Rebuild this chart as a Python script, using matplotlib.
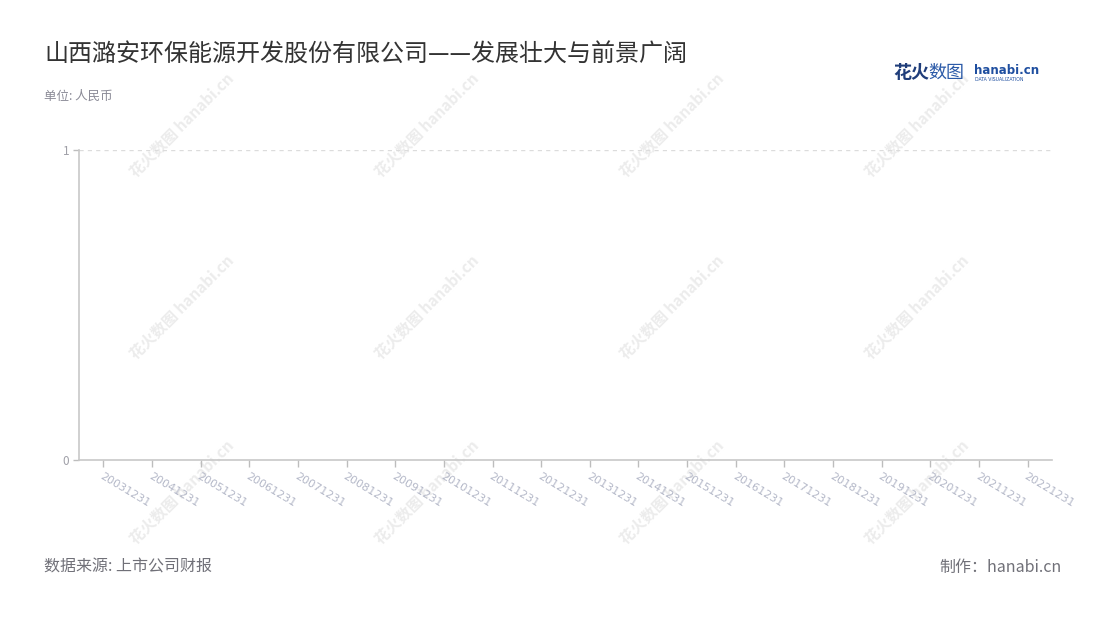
import matplotlib
matplotlib.use("Agg")
import matplotlib.pyplot as plt

plt.rcParams['font.family'] = ['Noto Sans CJK SC', 'DejaVu Sans']

categories = ["20031231", "20041231", "20051231", "20061231", "20071231",
              "20081231", "20091231", "20101231", "20111231", "20121231",
              "20131231", "20141231", "20151231", "20161231", "20171231",
              "20181231", "20191231", "20201231", "20211231", "20221231"]
y_ticks = [0, 1]
y_tick_labels = ["0", "1"]

title = "山西潞安环保能源开发股份有限公司——发展壮大与前景广阔"
unit_text = "单位: 人民币"
source_text = "数据来源: 上市公司财报"
maker_text = "制作：hanabi.cn"

W, H = 1100, 620
fig = plt.figure(figsize=(W / 100, H / 100), dpi=100)
fig.patch.set_facecolor("white")

# watermarks (behind everything)
wm_cols = [182, 427, 672, 917]
wm_rows = [125, 307, 492]
for cx in wm_cols:
    for cy in wm_rows:
        fig.text(cx / W, 1 - cy / H, "花火数图 hanabi.cn", rotation=45,
                 ha="center", va="center", fontsize=11, fontweight="bold",
                 color="#ececec", zorder=-1, rotation_mode="anchor")

ax = fig.add_axes([79 / W, 1 - 460 / H, (1052 - 79) / W, (460 - 150) / H])
ax.set_facecolor("none")
n = len(categories)
ax.set_xlim(-0.5, n - 0.5)
ax.set_ylim(0, 1)

ax.set_xticks(range(n))
ax.set_xticklabels(categories, rotation=-31, ha="left", va="top",
                   rotation_mode="anchor", color="#b4b8c8", fontsize=8,
                   family=["DejaVu Sans"])
ax.tick_params(axis="x", length=5, color="#bdbdbd", width=1, pad=3)
ax.set_yticks(y_ticks)
ax.set_yticklabels(y_tick_labels, color="#a0a0a8", fontsize=8.5)
ax.tick_params(axis="y", length=4, color="#bdbdbd", width=1, pad=3)

for s in ["top", "right"]:
    ax.spines[s].set_visible(False)
for s in ["left", "bottom"]:
    ax.spines[s].set_color("#c8c8c8")
    ax.spines[s].set_linewidth(1.2)

ax.axhline(1, color="#dcdcdc", lw=1, ls=(0, (3, 3)), zorder=0)

# title & texts
fig.text(44 / W, 1 - 55 / H, title, fontsize=17.3, color="#333333",
         ha="left", va="center")
fig.text(44 / W, 1 - 96 / H, unit_text, fontsize=9, color="#8a8a96",
         ha="left", va="center")
fig.text(44 / W, 1 - 567 / H, source_text, fontsize=11.5, color="#707078",
         ha="left", va="center")
fig.text(1062 / W, 1 - 567 / H, maker_text, fontsize=11.5, color="#707078",
         ha="right", va="center")

# logo
fig.text(893 / W, 1 - 73 / H, "花火", fontsize=13, fontweight="bold",
         color="#1f3d7a", ha="left", va="center")
fig.text(928 / W, 1 - 73 / H, "数图", fontsize=13, color="#2b5aa8",
         ha="left", va="center")
fig.text(974 / W, 1 - 70 / H, "hanabi.cn", fontsize=8.5, fontweight="bold",
         color="#1f4fa0", ha="left", va="center", family=["DejaVu Sans"])
fig.text(975 / W, 1 - 79.5 / H, "DATA VISUALIZATION", fontsize=3.3,
         color="#1f4fa0", ha="left", va="center", family=["DejaVu Sans"])

fig.savefig("out.png", dpi=100, facecolor="white")
